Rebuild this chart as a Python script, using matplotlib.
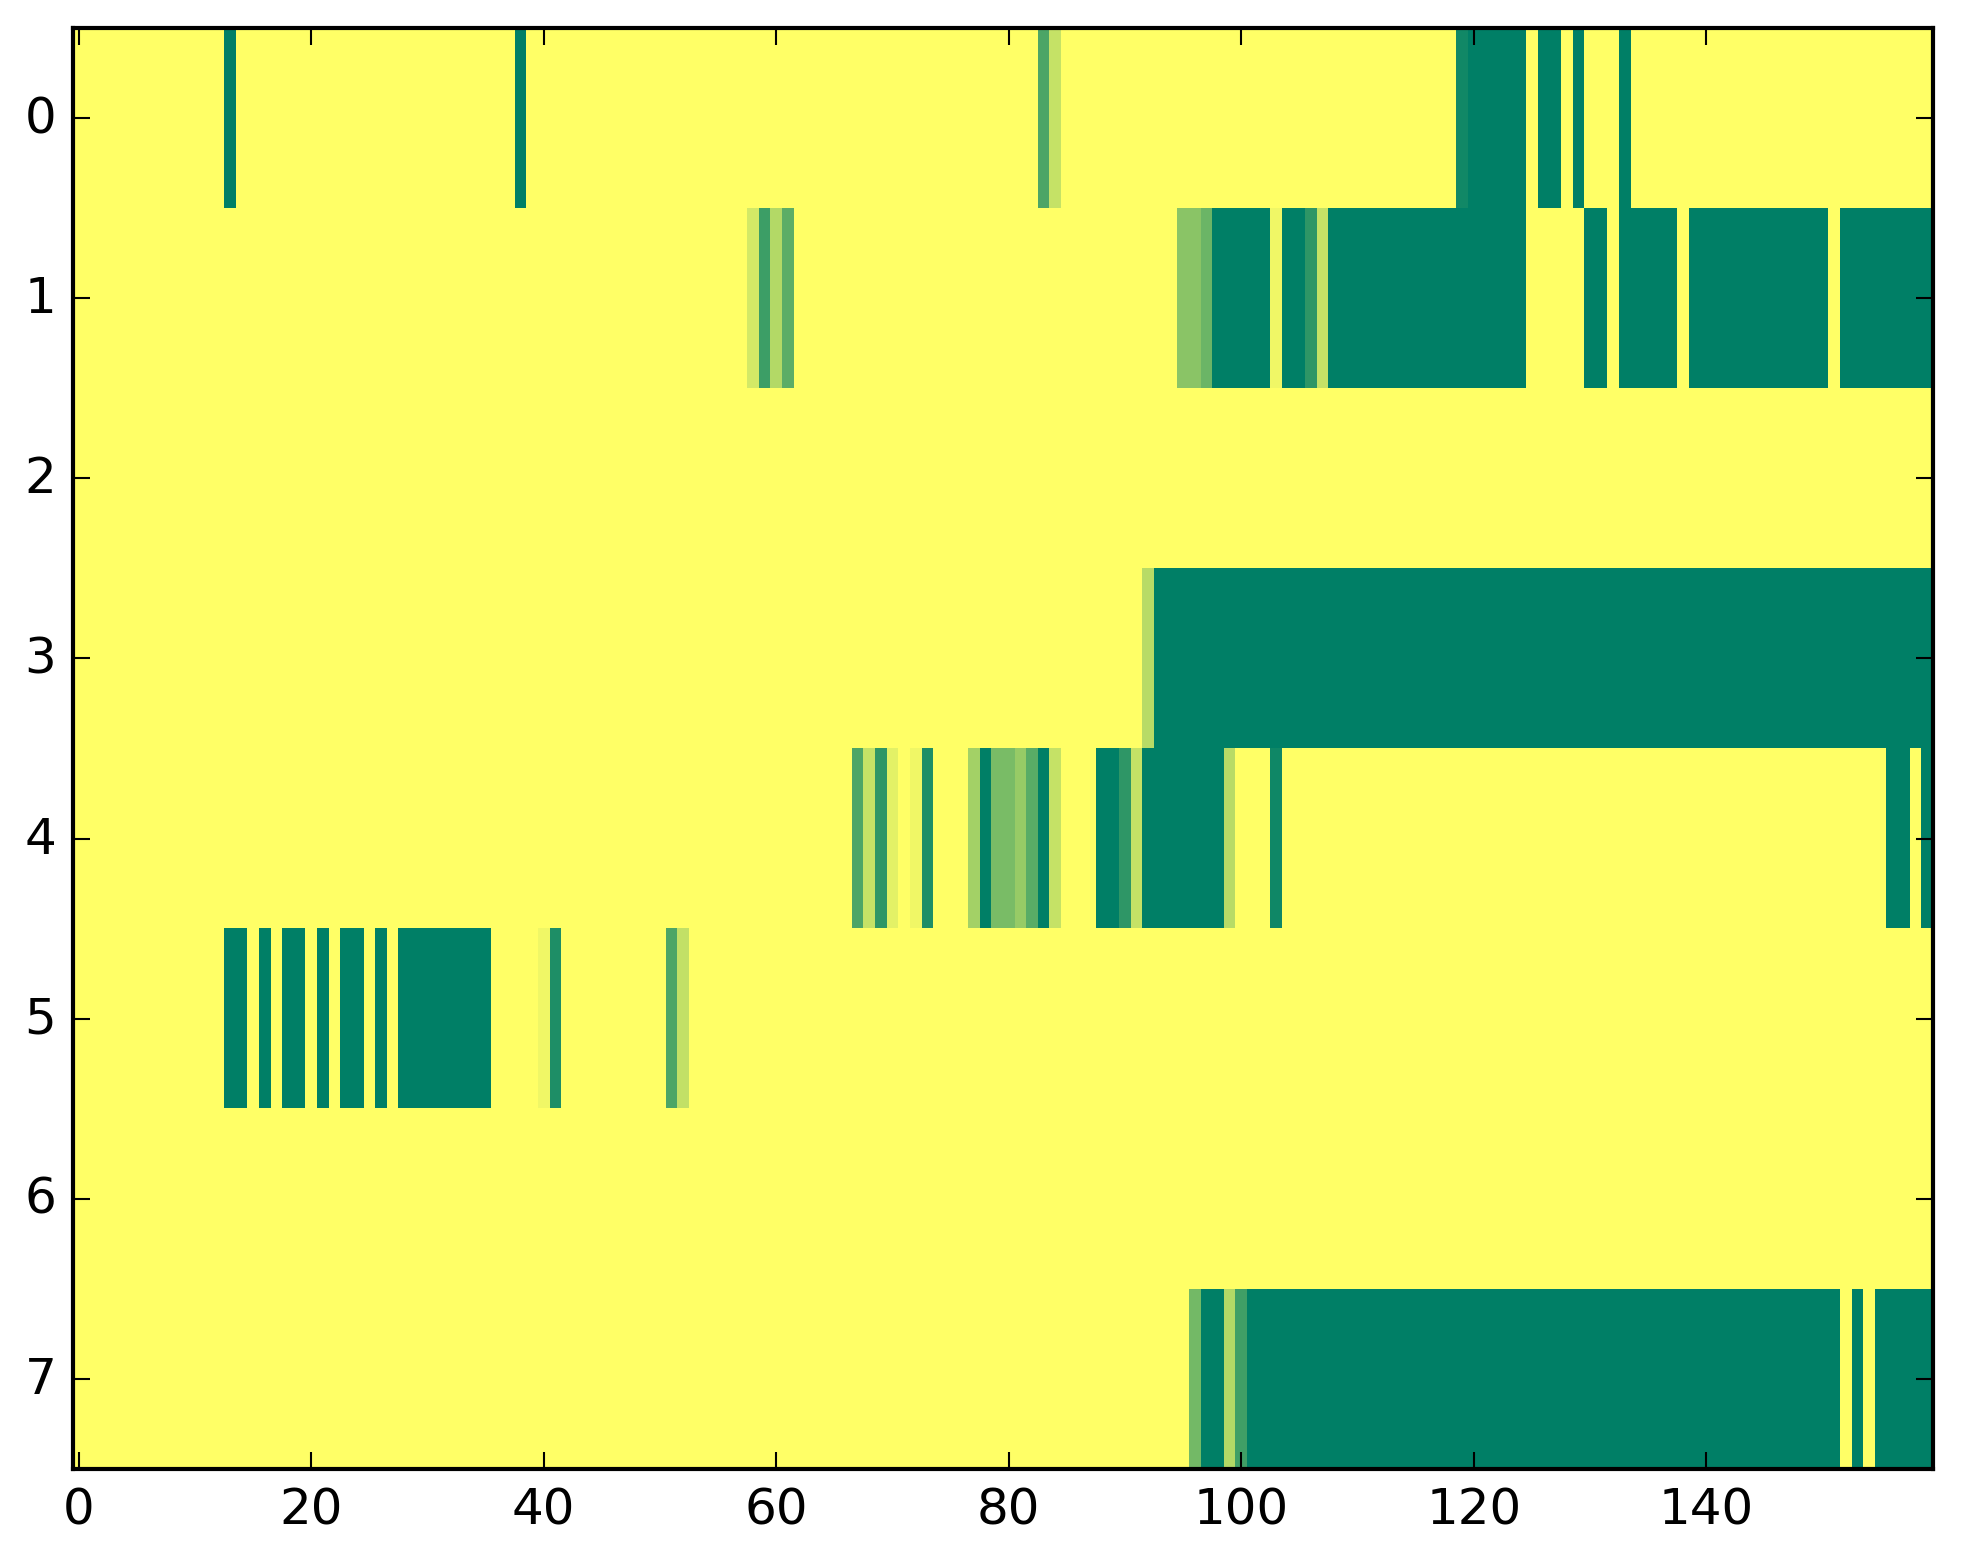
"""
Heat strip of 8 channels over 160 steps (summer colormap)
"""

import matplotlib
matplotlib.use('Agg')
import matplotlib.pyplot as plt
import numpy as np

# each row given as runs of (count, value), value 0 = green, 1 = yellow
row0 = [(13, 1.0), (1, 0.0), (24, 1.0), (1, 0.0), (44, 1.0), (1, 0.3), (1, 0.77),
        (34, 1.0), (1, 0.07), (5, 0.0), (1, 1.0), (2, 0.0), (1, 1.0), (1, 0.0),
        (3, 1.0), (1, 0.0), (26, 1.0)]
row1 = [(58, 1.0), (1, 0.83), (1, 0.24), (1, 0.7), (1, 0.36), (33, 1.0), (2, 0.54),
        (1, 0.42), (5, 0.0), (1, 0.94), (2, 0.0), (1, 0.18), (1, 0.77), (17, 0.0),
        (5, 1.0), (2, 0.0), (1, 1.0), (5, 0.0), (1, 1.0), (12, 0.0), (1, 1.0), (8, 0.0)]
row2 = [(160, 1.0)]
row3 = [(92, 1.0), (1, 0.72), (67, 0.0)]
row4 = [(67, 1.0), (1, 0.3), (1, 0.77), (1, 0.18), (1, 0.89), (1, 1.0), (1, 0.94),
        (1, 0.12), (3, 1.0), (1, 0.64), (1, 0.0), (2, 0.48), (1, 0.59), (1, 0.35),
        (1, 0.0), (1, 0.77), (3, 1.0), (2, 0.0), (1, 0.18), (1, 0.77), (7, 0.0),
        (1, 0.72), (3, 1.0), (1, 0.06), (52, 1.0), (2, 0.0), (1, 1.0), (1, 0.0)]
row5 = [(13, 1.0), (2, 0.0), (1, 1.0), (1, 0.0), (1, 1.0), (2, 0.0), (1, 1.0),
        (1, 0.0), (1, 1.0), (2, 0.0), (1, 1.0), (1, 0.0), (1, 1.0), (8, 0.0),
        (4, 1.0), (1, 0.94), (1, 0.12), (9, 1.0), (1, 0.3), (1, 0.76), (107, 1.0)]
row6 = [(160, 1.0)]
row7 = [(96, 1.0), (1, 0.45), (2, 0.0), (1, 0.7), (1, 0.25), (51, 0.0), (1, 1.0),
        (1, 0.0), (1, 1.0), (5, 0.0)]

rows = [row0, row1, row2, row3, row4, row5, row6, row7]
xticks = [0, 20, 40, 60, 80, 100, 120, 140]
yticks = [0, 1, 2, 3, 4, 5, 6, 7]


def expand(runs):
    out = []
    for n, v in runs:
        out.extend([v] * n)
    return out


def main():
    plt.style.use('classic')

    grid = np.array([expand(r) for r in rows])

    fig = plt.figure(figsize=(1963 / 300, 1564 / 300), dpi=300)
    ax = fig.add_axes([73 / 1963, 94 / 1564, 1860 / 1963, 1441 / 1564])
    ax.imshow(grid, cmap='summer', vmin=0, vmax=1, aspect='auto',
              interpolation='nearest')
    ax.set_xticks(xticks)
    ax.set_yticks(yticks)
    ax.tick_params(labelsize=12)

    fig.savefig('out.png', dpi=300)


if __name__ == '__main__':
    main()
